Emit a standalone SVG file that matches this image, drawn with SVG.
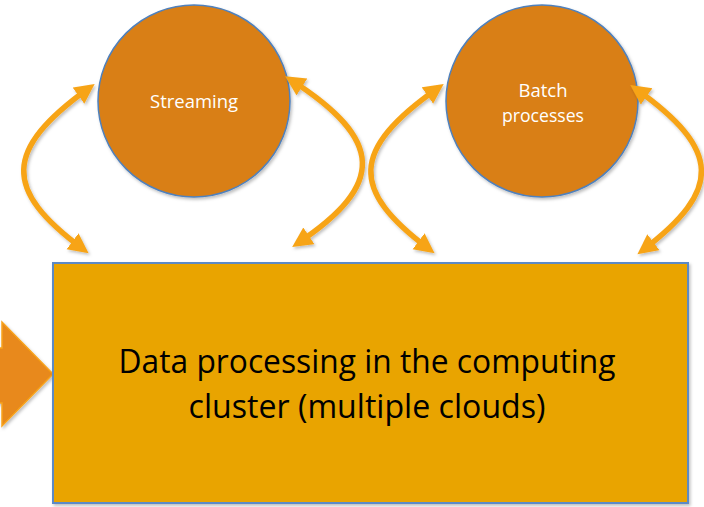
<svg xmlns="http://www.w3.org/2000/svg" width="704" height="507" viewBox="0 0 704 507">
  <style>
    .circle { fill: #D97F18; stroke: #4F81BD; stroke-width: 1.5; }
    .ctext { fill: #FFFFFF; font-family: "Open Sans", "DejaVu Sans", sans-serif; font-size: 17.5px; text-anchor: middle; }
    .conn { fill: none; stroke: #F7A419; stroke-width: 5.5; marker-start: url(#head); marker-end: url(#head); }
    .main { fill: #E9A405; stroke: #5B8AC6; stroke-width: 2; }
    .mtext { fill: #000000; font-family: "Open Sans", "DejaVu Sans", sans-serif; font-size: 33px; text-anchor: middle; }
  </style>
  <defs>
    <marker id="head" markerUnits="userSpaceOnUse" markerWidth="24" markerHeight="24" refX="13" refY="10" orient="auto-start-reverse" viewBox="0 0 24 24">
      <path d="M0,0 L20,10 L0,20 z" fill="#F7A419"/>
    </marker>
    <filter id="sh" x="-10%" y="-10%" width="130%" height="130%">
      <feDropShadow dx="1.5" dy="2" stdDeviation="1.5" flood-color="#000" flood-opacity="0.25"/>
    </filter>
  </defs>

  <g id="input-arrow">
    <polygon points="-10,348 2,348 2,322 53,374 2,426 2,403 -10,403" fill="#E8891A" stroke="#F7A21B" stroke-width="1.5" filter="url(#sh)"/>
  </g>

  <g id="cluster">
    <rect class="main" x="53" y="263" width="635" height="240" filter="url(#sh)"/>
    <text class="mtext" x="367" y="373" textLength="497" lengthAdjust="spacingAndGlyphs">Data processing in the computing</text>
    <text class="mtext" x="367" y="418" textLength="357" lengthAdjust="spacingAndGlyphs">cluster (multiple clouds)</text>
  </g>

  <g id="streaming">
    <circle class="circle" cx="194" cy="101" r="96" filter="url(#sh)"/>
    <text class="ctext" x="194" y="108" textLength="88" lengthAdjust="spacingAndGlyphs">Streaming</text>
  </g>

  <g id="batch">
    <circle class="circle" cx="542" cy="101" r="96" filter="url(#sh)"/>
    <text class="ctext" x="543" y="97" textLength="49" lengthAdjust="spacingAndGlyphs">Batch</text>
    <text class="ctext" x="543" y="122" textLength="82" lengthAdjust="spacingAndGlyphs">processes</text>
  </g>

  <g id="connectors" filter="url(#sh)">
    <path class="conn" d="M89,88 C3,150 3,190 83,249"/>
    <path class="conn" d="M291,80 C385,140 385,185 298,243"/>
    <path class="conn" d="M438,88 C350,150 350,190 429,249"/>
    <path class="conn" d="M636,89 C722,150 722,190 643,250"/>
  </g>
</svg>
